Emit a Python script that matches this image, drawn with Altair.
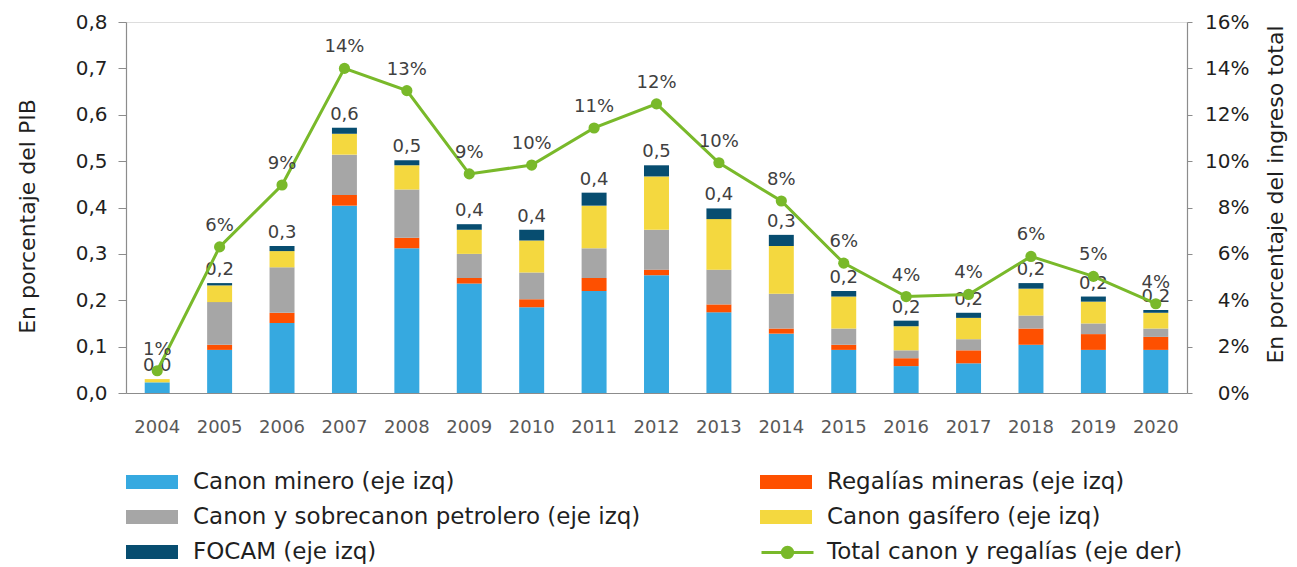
import altair as alt
import pandas as pd

# ---------------- data ----------------
years = [str(y) for y in range(2004, 2021)]

canon_minero = [0.023, 0.093, 0.151, 0.404, 0.312, 0.236, 0.185, 0.220, 0.254,
                0.174, 0.128, 0.093, 0.058, 0.064, 0.104, 0.093, 0.093]
regalias_mineras = [0.000, 0.011, 0.022, 0.023, 0.023, 0.012, 0.017, 0.028, 0.012,
                    0.017, 0.011, 0.011, 0.017, 0.028, 0.035, 0.034, 0.028]
canon_petrolero = [0.000, 0.092, 0.098, 0.087, 0.104, 0.052, 0.058, 0.064, 0.086,
                   0.075, 0.075, 0.035, 0.017, 0.024, 0.028, 0.023, 0.018]
canon_gasifero = [0.007, 0.036, 0.035, 0.045, 0.052, 0.052, 0.069, 0.092, 0.115,
                  0.109, 0.103, 0.069, 0.052, 0.046, 0.058, 0.047, 0.034]
focam = [0.000, 0.005, 0.011, 0.013, 0.011, 0.012, 0.023, 0.028, 0.024,
         0.023, 0.024, 0.012, 0.012, 0.011, 0.012, 0.011, 0.006]

total_pct = [0.96, 6.3, 8.97, 14.0, 13.04, 9.45, 9.83, 11.43, 12.47,
             9.93, 8.28, 5.6, 4.16, 4.25, 5.89, 5.03, 3.85]

# stacking order (bottom to top)
series_names = [
    "Canon minero (eje izq)",
    "Regalías mineras (eje izq)",
    "Canon y sobrecanon petrolero (eje izq)",
    "Canon gasífero (eje izq)",
    "FOCAM (eje izq)",
]
series_values = [canon_minero, regalias_mineras, canon_petrolero, canon_gasifero, focam]
series_colors = ["#36a9e0", "#fe5000", "#a6a6a6", "#f4d83f", "#074d70"]
# legend order (column by column)
legend_order = [0, 2, 4, 1, 3]
line_name = "Total canon y regalías (eje der)"
line_color = "#79b92a"

left_ticks = [0.0, 0.1, 0.2, 0.3, 0.4, 0.5, 0.6, 0.7, 0.8]
right_ticks = [0, 2, 4, 6, 8, 10, 12, 14, 16]

# ---------------- tables ----------------
rows = []
for k, (name, vals) in enumerate(zip(series_names, series_values)):
    for yr, v in zip(years, vals):
        rows.append({"anio": yr, "serie": name, "valor": v, "orden": k})
bars_df = pd.DataFrame(rows)
line_df = pd.DataFrame({"anio": years, "pct": total_pct, "serie": line_name})

legend_domain = [series_names[i] for i in legend_order]
legend_range = [series_colors[i] for i in legend_order]

FONT = "DejaVu Sans"
TXT = "#1f1f1f"
AXC = "#8c8c8c"

x_enc = alt.X(
    "anio:N", sort=years,
    scale=alt.Scale(paddingInner=0.6, paddingOuter=0.3),
    axis=alt.Axis(title=None, labelAngle=0, tickSize=0, labelPadding=34,
                  labelBaseline="middle", labelFontSize=18, labelColor="#595959",
                  labelFont=FONT, domainColor=AXC, domainWidth=1.2, grid=False),
)

left_axis = alt.Axis(
    title="En porcentaje del PIB", values=left_ticks,
    labelExpr="replace(format(datum.value, '.1f'), '.', ',')",
    grid=False, domainColor=AXC, tickColor=AXC, tickSize=8, domainWidth=1.2,
    labelFontSize=20, labelColor=TXT, labelPadding=11, labelFont=FONT,
    titleFontSize=22, titleFontWeight="normal", titleColor=TXT, titleFont=FONT,
    titleAngle=270, titleX=-99, titleY=194, titleAlign="center", titleBaseline="middle",
)
right_axis = alt.Axis(
    title="En porcentaje del ingreso total", orient="right", values=right_ticks,
    labelExpr="format(datum.value, '.0f') + '%'",
    grid=False, domainColor=AXC, tickColor=AXC, tickSize=5, domainWidth=1.2,
    labelFontSize=20, labelColor=TXT, labelPadding=57, labelAlign="right", labelFont=FONT,
    titleFontSize=22, titleFontWeight="normal", titleColor=TXT, titleFont=FONT,
    titleAngle=270, titleX=88, titleY=172, titleAlign="center", titleBaseline="middle",
)

y_left_scale = alt.Scale(domain=[0, 0.8], nice=False)
y_right_scale = alt.Scale(domain=[0, 16], nice=False)

rect_path = "M-1,-0.27L1,-0.27L1,0.27L-1,0.27Z"
line_path = "M-1,0L1,0M0.2,0A0.2,0.2,0,1,1,-0.2,0A0.2,0.2,0,1,1,0.2,0Z"

bars = alt.Chart(bars_df).mark_bar().encode(
    x=x_enc,
    y=alt.Y("valor:Q", stack="zero", scale=y_left_scale, axis=left_axis),
    fill=alt.Fill(
        "serie:N",
        scale=alt.Scale(domain=legend_domain, range=legend_range),
        legend=alt.Legend(
            title=None, orient="none", legendX=0, legendY=442.5, columns=2,
            direction="vertical", clipHeight=35,
            columnPadding=119, rowPadding=0, padding=0,
            symbolType=rect_path, symbolSize=2704, symbolStrokeWidth=0,
            labelFont=FONT, labelFontSize=23, labelColor=TXT, labelOffset=15,
            labelLimit=700,
        ),
    ),
    order=alt.Order("orden:Q", sort="ascending"),
)

totals = alt.Chart(bars_df).transform_aggregate(
    total="sum(valor)", groupby=["anio"]
).transform_calculate(
    etiqueta="replace(format(datum.total, '.1f'), '.', ',')"
).mark_text(dy=-13, baseline="middle", fontSize=18, font=FONT, color="#404040").encode(
    x=alt.X("anio:N", sort=years),
    y=alt.Y("total:Q", scale=y_left_scale, axis=left_axis),
    text="etiqueta:N",
)

line = alt.Chart(line_df).mark_line(strokeWidth=3).encode(
    x=alt.X("anio:N", sort=years),
    y=alt.Y("pct:Q", scale=y_right_scale, axis=right_axis),
    stroke=alt.Stroke(
        "serie:N",
        scale=alt.Scale(domain=[line_name], range=[line_color]),
        legend=alt.Legend(
            title=None, orient="none", legendX=634, legendY=512.9, padding=0,
            clipHeight=35,
            symbolType=line_path, symbolSize=2704, symbolStrokeWidth=3,
            symbolFillColor=line_color, symbolStrokeColor=line_color,
            labelFont=FONT, labelFontSize=23, labelColor=TXT, labelOffset=12,
            labelLimit=700,
        ),
    ),
)

points = alt.Chart(line_df).mark_circle(size=125, color=line_color, opacity=1).encode(
    x=alt.X("anio:N", sort=years),
    y=alt.Y("pct:Q", scale=y_right_scale, axis=right_axis),
)

pct_labels = alt.Chart(line_df).transform_calculate(
    etiqueta="format(datum.pct, '.0f') + '%'"
).mark_text(dy=-21, baseline="middle", fontSize=18, font=FONT, color="#404040").encode(
    x=alt.X("anio:N", sort=years),
    y=alt.Y("pct:Q", scale=y_right_scale, axis=right_axis),
    text="etiqueta:N",
)

left_layer = alt.layer(bars, totals)
right_layer = alt.layer(line, points, pct_labels)

chart = alt.layer(left_layer, right_layer).resolve_scale(
    y="independent"
).properties(
    width=1061, height=371,
    autosize=alt.AutoSizeParams(type="none"),
    padding={"left": 118, "top": 14, "right": 102, "bottom": 174},
).configure_view(stroke=None).configure(font=FONT)

chart.save("out.html", embed_options={"renderer": "svg", "actions": False})
